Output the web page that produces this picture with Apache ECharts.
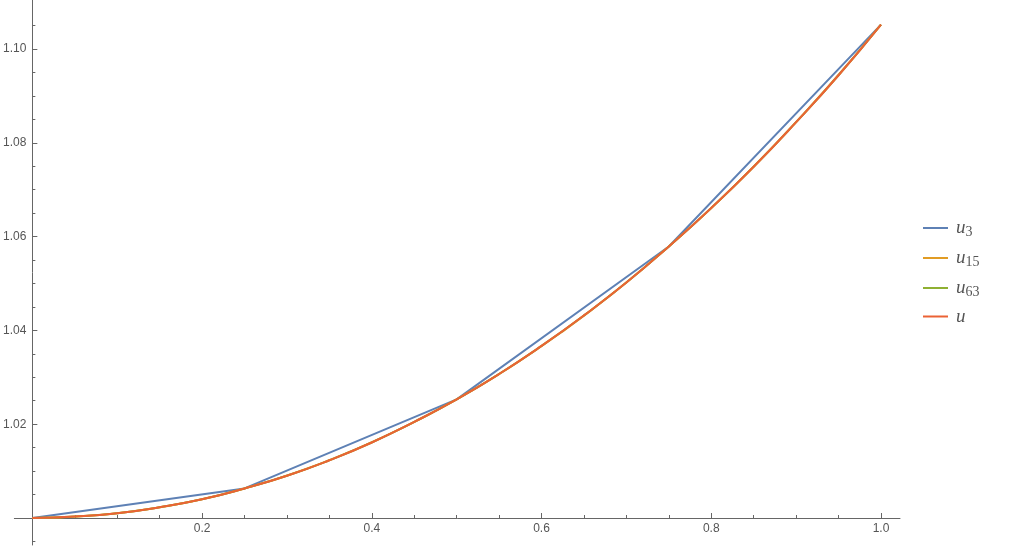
<!DOCTYPE html>
<html>
<head>
<meta charset="utf-8">
<script src="https://cdn.jsdelivr.net/npm/echarts@6/dist/echarts.min.js"></script>
<style>
  html, body { margin: 0; padding: 0; background: #fff; }
  #chart { width: 1027px; height: 556px; }
</style>
</head>
<body>
<div id="chart"></div>
<script>
// 节点与取值
const u3X = [0, 0.25, 0.5, 0.75, 1]
const u3Y = [1, 1.0063, 1.0253, 1.0579, 1.1052]

const u15X = [0, 0.0625, 0.125, 0.1875, 0.25, 0.3125, 0.375, 0.4375, 0.5,
  0.5625, 0.625, 0.6875, 0.75, 0.8125, 0.875, 0.9375, 1]
const u15Y = [1, 1.0004, 1.0016, 1.0035, 1.0063, 1.0098, 1.0142, 1.0193, 1.0253,
  1.0321, 1.0398, 1.0484, 1.0579, 1.0682, 1.0796, 1.0919, 1.1052]

const uX = [0, 0.05, 0.1, 0.15, 0.2, 0.25, 0.3, 0.35, 0.4, 0.45, 0.5,
  0.55, 0.6, 0.65, 0.7, 0.75, 0.8, 0.85, 0.9, 0.95, 1]
const u63Y = [1, 1.0003, 1.0010, 1.0023, 1.0040, 1.0063, 1.0090, 1.0123, 1.0161, 1.0205, 1.0253,
  1.0307, 1.0367, 1.0432, 1.0502, 1.0579, 1.0661, 1.0749, 1.0844, 1.0944, 1.1052]
const uY = [1, 1.0003, 1.0010, 1.0023, 1.0040, 1.0063, 1.0090, 1.0123, 1.0161, 1.0205, 1.0253,
  1.0307, 1.0367, 1.0432, 1.0502, 1.0579, 1.0661, 1.0749, 1.0844, 1.0944, 1.1052]

// 刻度
const xMajor = [0.2, 0.4, 0.6, 0.8, 1.0]
const xMinor = [0.05, 0.1, 0.15, 0.25, 0.3, 0.35, 0.45, 0.5, 0.55, 0.65, 0.7, 0.75, 0.85, 0.9, 0.95]
const yMajor = [1.02, 1.04, 1.06, 1.08, 1.10]
const yMinor = [0.995, 1.005, 1.01, 1.015, 1.025, 1.03, 1.035, 1.045, 1.05, 1.055,
  1.065, 1.07, 1.075, 1.085, 1.09, 1.095, 1.105]

const names = ['u3', 'u15', 'u63', 'u']
const colors = ['#5e81b5', '#e19c24', '#8fb032', '#eb6235']

const pairs = (xs, ys) => xs.map((x, i) => [x, ys[i]])

const axisColor = '#666'
const labelColor = '#555'
const xMin = -0.0212, xMax = 1.0224
const yMin = 0.99424, yMax = 1.11045

const xAxisBase = {
  type: 'value', min: xMin, max: xMax, position: 'bottom', offset: -27,
  splitLine: { show: false }
}
const yAxisBase = {
  type: 'value', min: yMin, max: yMax, position: 'left', offset: -18,
  splitLine: { show: false }
}

const options = {
  animation: false,
  grid: { left: 13, right: 127, top: 0, bottom: 11 },
  legend: {
    orient: 'vertical',
    left: 918,
    top: 212,
    icon: 'rect',
    itemWidth: 25,
    itemHeight: 2,
    itemGap: 8,
    data: names,
    formatter: name => name === 'u' ? '{m|u}' : '{m|u}{s|' + name.slice(1) + '}',
    textStyle: {
      padding: [0, 0, 0, 3],
      rich: {
        m: { fontFamily: 'Liberation Serif', fontStyle: 'italic', fontSize: 19, lineHeight: 18, color: '#555' },
        s: { fontFamily: 'Liberation Serif', fontSize: 14, lineHeight: 18, color: '#555', padding: [8, 0, 0, 0] }
      }
    }
  },
  xAxis: [
    {
      ...xAxisBase,
      axisLine: { show: true, lineStyle: { color: axisColor, width: 1 } },
      axisTick: { show: true, inside: true, length: 5, customValues: xMajor, lineStyle: { color: axisColor } },
      axisLabel: {
        show: true, margin: 5, customValues: xMajor, color: labelColor,
        fontFamily: 'Liberation Sans', fontSize: 12,
        formatter: v => v.toFixed(1)
      }
    },
    {
      ...xAxisBase,
      axisLine: { show: false },
      axisTick: { show: true, inside: true, length: 3, customValues: xMinor, lineStyle: { color: axisColor } },
      axisLabel: { show: false }
    }
  ],
  yAxis: [
    {
      ...yAxisBase,
      axisLine: { show: true, lineStyle: { color: axisColor, width: 1 } },
      axisTick: { show: true, inside: true, length: 5, customValues: yMajor, lineStyle: { color: axisColor } },
      axisLabel: {
        show: true, margin: 6, customValues: yMajor, color: labelColor,
        fontFamily: 'Liberation Sans', fontSize: 12,
        formatter: v => v.toFixed(2)
      }
    },
    {
      ...yAxisBase,
      axisLine: { show: false },
      axisTick: { show: true, inside: true, length: 3, customValues: yMinor, lineStyle: { color: axisColor } },
      axisLabel: { show: false }
    }
  ],
  series: [
    { name: 'u3', data: pairs(u3X, u3Y), smooth: false },
    { name: 'u15', data: pairs(u15X, u15Y), smooth: true },
    { name: 'u63', data: pairs(uX, u63Y), smooth: true },
    { name: 'u', data: pairs(uX, uY), smooth: true }
  ].map((s, i) => ({
    ...s,
    type: 'line',
    symbol: 'none',
    xAxisIndex: 0,
    yAxisIndex: 0,
    color: colors[i],
    lineStyle: { width: 2, color: colors[i] }
  }))
}

const chart = echarts.init(document.getElementById('chart'))
chart.setOption(options)
</script>
</body>
</html>
